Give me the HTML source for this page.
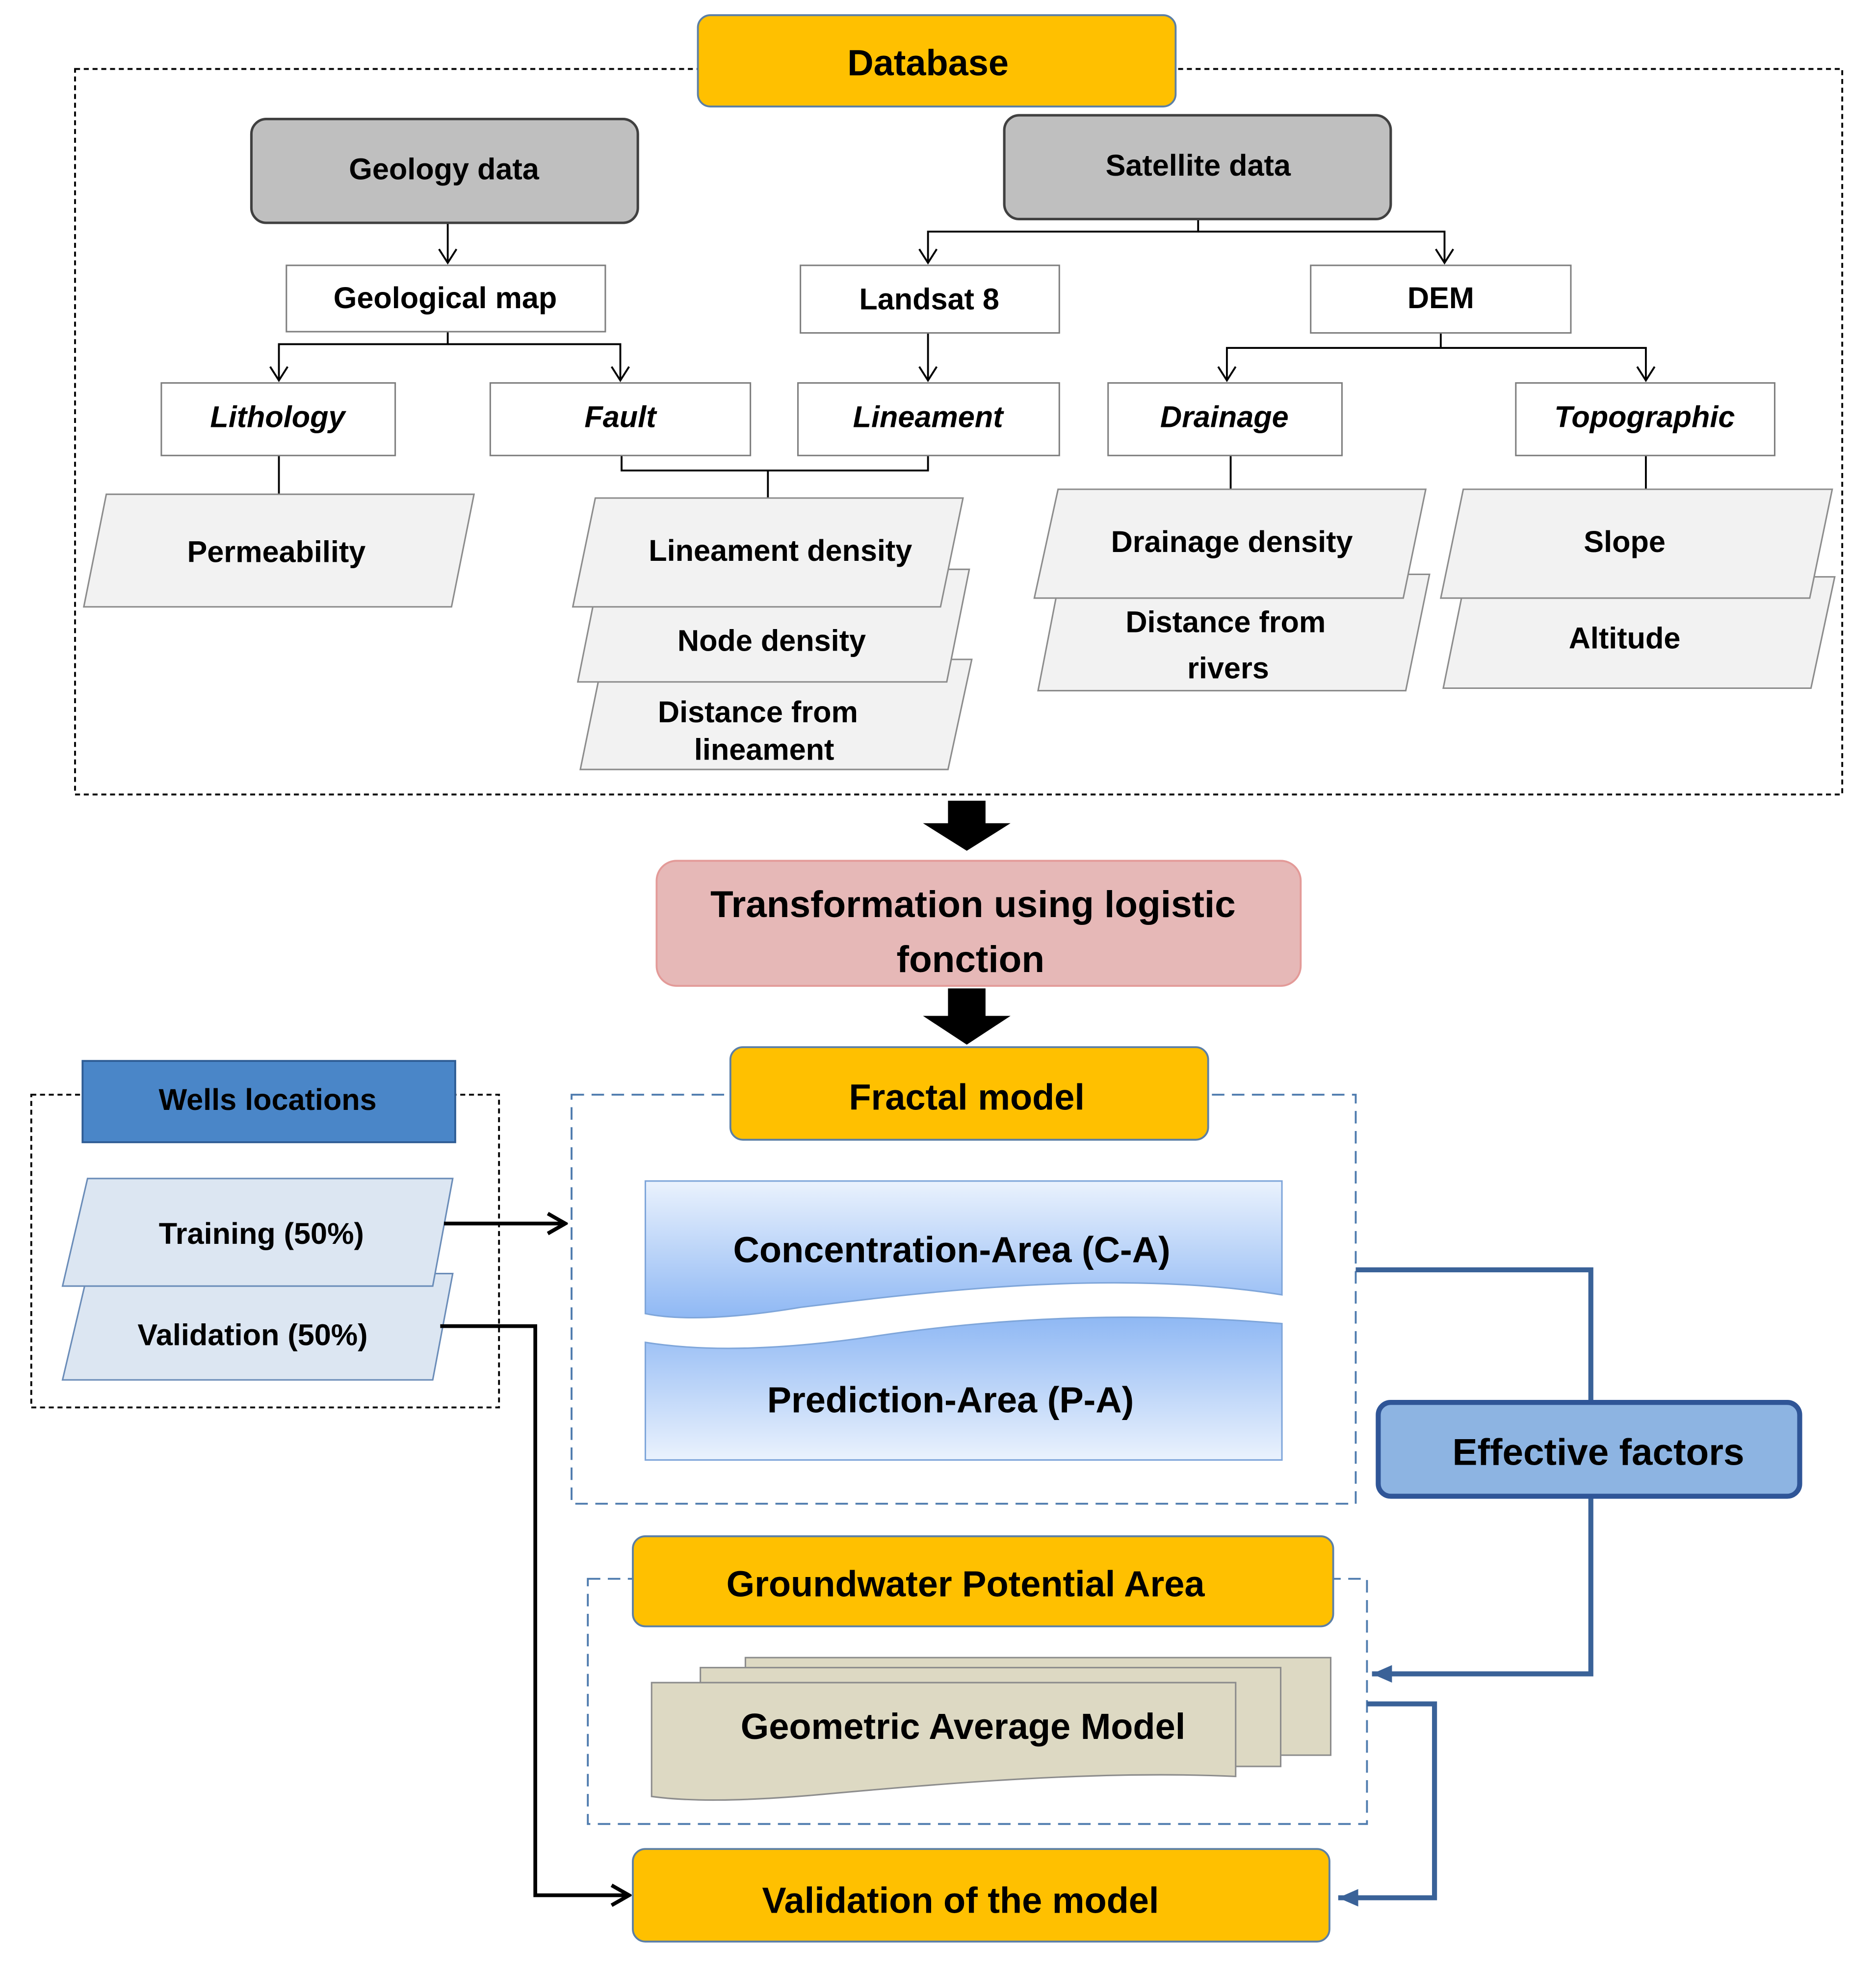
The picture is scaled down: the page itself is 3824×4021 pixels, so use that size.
<!DOCTYPE html>
<html><head><meta charset="utf-8"><style>html,body{margin:0;padding:0;background:#fff}svg{display:block}text{font-family:"Liberation Sans",sans-serif;font-weight:bold;text-anchor:middle;dominant-baseline:central}</style></head><body>
<svg width="3824" height="4021" viewBox="0 0 1500 1577" xmlns="http://www.w3.org/2000/svg">
<defs>
<marker id="oa" markerWidth="16" markerHeight="16" refX="14" refY="8" orient="auto" markerUnits="userSpaceOnUse"><path d="M3,1 L14,8 L3,15" fill="none" stroke="#000" stroke-width="1.5"/></marker>
<marker id="ka" markerWidth="20" markerHeight="20" refX="18" refY="10" orient="auto" markerUnits="userSpaceOnUse"><path d="M4,2 L18,10 L4,18" fill="none" stroke="#000" stroke-width="3"/></marker>
<marker id="ba" markerWidth="20" markerHeight="20" refX="18" refY="10" orient="auto" markerUnits="userSpaceOnUse"><path d="M2,3 L18,10 L2,17 Z" fill="#3A6298"/></marker>
<linearGradient id="bg" x1="0" y1="0" x2="0" y2="1"><stop offset="0" stop-color="#EAF2FD"/><stop offset="1" stop-color="#8FB8F4"/></linearGradient>
<linearGradient id="bg2" x1="0" y1="0" x2="0" y2="1"><stop offset="0" stop-color="#8FB8F4"/><stop offset="1" stop-color="#EAF2FD"/></linearGradient>
</defs>
<g fill="none" stroke="#000" stroke-width="1.5" stroke-dasharray="4,3">
<rect x="60" y="55" width="1413" height="580"/>
<rect x="25" y="875" width="374" height="250"/>
</g>
<g fill="none" stroke="#4E7BAE" stroke-width="1.5" stroke-dasharray="10,6">
<rect x="457" y="875" width="627" height="327"/>
<rect x="470" y="1262" width="623" height="196"/>
</g>
<g stroke="#000" stroke-width="1.5" fill="none">
<line x1="358" y1="178" x2="358" y2="210" marker-end="url(#oa)"/>
<polyline points="958,175 958,185 742,185 742,210" marker-end="url(#oa)"/>
<polyline points="958,185 1155,185 1155,210" marker-end="url(#oa)"/>
<polyline points="358,265 358,275 223,275 223,304" marker-end="url(#oa)"/>
<polyline points="358,275 496,275 496,304" marker-end="url(#oa)"/>
<line x1="742" y1="266" x2="742" y2="304" marker-end="url(#oa)"/>
<polyline points="1152,266 1152,278 981,278 981,304" marker-end="url(#oa)"/>
<polyline points="1152,278 1316,278 1316,304" marker-end="url(#oa)"/>
<line x1="223" y1="364" x2="223" y2="396"/>
<polyline points="497,364 497,376 742,376 742,364"/>
<line x1="614" y1="376" x2="614" y2="399"/>
<line x1="984" y1="364" x2="984" y2="392"/>
<line x1="1316" y1="364" x2="1316" y2="392"/>
</g>
<rect x="558" y="12" width="382" height="73" rx="10" fill="#FFC000" stroke="#5B7FA6" stroke-width="1.5"/>
<text x="742" y="50" font-size="29">Database</text>
<rect x="201" y="95" width="309" height="83" rx="12" fill="#BFBFBF" stroke="#404040" stroke-width="2"/>
<text x="355" y="135" font-size="24">Geology  data</text>
<rect x="803" y="92" width="309" height="83" rx="12" fill="#BFBFBF" stroke="#404040" stroke-width="2"/>
<text x="958" y="132" font-size="24">Satellite data</text>
<g fill="#fff" stroke="#7F7F7F" stroke-width="1.2">
<rect x="229" y="212" width="255" height="53"/><rect x="640" y="212" width="207" height="54"/><rect x="1048" y="212" width="208" height="54"/>
<rect x="129" y="306" width="187" height="58"/><rect x="392" y="306" width="208" height="58"/><rect x="638" y="306" width="209" height="58"/><rect x="886" y="306" width="187" height="58"/><rect x="1212" y="306" width="207" height="58"/>
</g>
<g font-size="24"><text x="356" y="238">Geological  map</text><text x="743" y="239">Landsat 8</text><text x="1152" y="238">DEM</text></g>
<g font-size="24" font-style="italic"><text x="222" y="333">Lithology</text><text x="496" y="333">Fault</text><text x="742" y="333">Lineament</text><text x="979" y="333">Drainage</text><text x="1315" y="333">Topographic</text></g>
<g fill="#F2F2F2" stroke="#8C8C8C" stroke-width="1.2">
<polygon points="85,395 379,395 361,485 67,485"/>
<polygon points="482,527 777,527 758,615 464,615"/>
<polygon points="480,455 775,455 757,545 462,545"/>
<polygon points="476,398 770,398 752,485 458,485"/>
<polygon points="848,459 1143,459 1124,552 830,552"/>
<polygon points="846,391 1140,391 1122,478 827,478"/>
<polygon points="1172,461 1467,461 1448,550 1154,550"/>
<polygon points="1170,391 1465,391 1447,478 1152,478"/>
</g>
<polygon points="70,1018 362,1018 346,1103 50,1103" fill="#DCE6F2" stroke="#6A8CB8" stroke-width="1.2"/>
<polygon points="70,942 362,942 346,1028 50,1028" fill="#DCE6F2" stroke="#6A8CB8" stroke-width="1.2"/>
<g font-size="24">
<text x="221" y="441">Permeability</text>
<text x="624" y="440">Lineament density</text>
<text x="617" y="512">Node density</text>
<text x="606" y="569">Distance from</text><text x="611" y="599">lineament</text>
<text x="985" y="433">Drainage density</text>
<text x="980" y="497">Distance from</text><text x="982" y="534">rivers</text>
<text x="1299" y="433">Slope</text><text x="1299" y="510">Altitude</text>
<text x="209" y="986">Training  (50%)</text><text x="202" y="1067">Validation  (50%)</text>
</g>
<polygon points="758,640 788,640 788,658 808,658 773,680 738,658 758,658" fill="#000"/>
<rect x="525" y="688" width="515" height="100" rx="16" fill="#E6B8B7" stroke="#E39A98" stroke-width="1.5"/>
<text x="778" y="723" font-size="30">Transformation using logistic</text>
<text x="776" y="767" font-size="30">fonction</text>
<polygon points="758,790 788,790 788,812 808,812 773,835 738,812 758,812" fill="#000"/>
<rect x="584" y="837" width="382" height="74" rx="10" fill="#FFC000" stroke="#5B7FA6" stroke-width="1.5"/>
<text x="773" y="877" font-size="29">Fractal model</text>
<rect x="66" y="848" width="298" height="65" fill="#4A86C8" stroke="#2E5C94" stroke-width="1.5"/>
<text x="214" y="879" font-size="24">Wells locations</text>
<path d="M516,944 H1025 V1035 C900,1015 760,1030 640,1045 C580,1055 540,1055 516,1050 Z" fill="url(#bg)" stroke="#7FA6DA" stroke-width="1.2"/>
<text x="761" y="999" font-size="29">Concentration-Area (C-A)</text>
<path d="M516,1073 C560,1080 620,1080 700,1068 C820,1050 930,1050 1025,1058 V1167 H516 Z" fill="url(#bg2)" stroke="#7FA6DA" stroke-width="1.2"/>
<text x="760" y="1119" font-size="29">Prediction-Area (P-A)</text>
<line x1="355" y1="978" x2="452" y2="978" stroke="#000" stroke-width="3" marker-end="url(#ka)"/>
<polyline points="352,1060 428,1060 428,1515 503,1515" fill="none" stroke="#000" stroke-width="3" marker-end="url(#ka)"/>
<polyline points="1084,1015 1272,1015 1272,1121" fill="none" stroke="#3A6298" stroke-width="4"/>
<polyline points="1272,1196 1272,1338 1097,1338" fill="none" stroke="#3A6298" stroke-width="4" marker-end="url(#ba)"/>
<polyline points="1093,1362 1147,1362 1147,1517 1070,1517" fill="none" stroke="#3A6298" stroke-width="4" marker-end="url(#ba)"/>
<rect x="1102" y="1121" width="337" height="75" rx="10" fill="#8DB4E2" stroke="#2F5597" stroke-width="4"/>
<text x="1278" y="1161" font-size="30">Effective factors</text>
<rect x="506" y="1228" width="560" height="72" rx="10" fill="#FFC000" stroke="#5B7FA6" stroke-width="1.5"/>
<text x="772" y="1266" font-size="29">Groundwater Potential Area</text>
<g fill="#DDD9C3" stroke="#8C8C8C" stroke-width="1.2">
<rect x="596" y="1325" width="468" height="78"/>
<rect x="560" y="1333" width="464" height="79"/>
<path d="M521,1345 H988 V1420 C880,1415 760,1425 650,1435 C590,1440 550,1440 521,1436 Z"/>
</g>
<text x="770" y="1380" font-size="29">Geometric Average Model</text>
<rect x="506" y="1478" width="557" height="74" rx="10" fill="#FFC000" stroke="#5B7FA6" stroke-width="1.5"/>
<text x="768" y="1519" font-size="29">Validation  of the model</text>
</svg>
</body></html>
